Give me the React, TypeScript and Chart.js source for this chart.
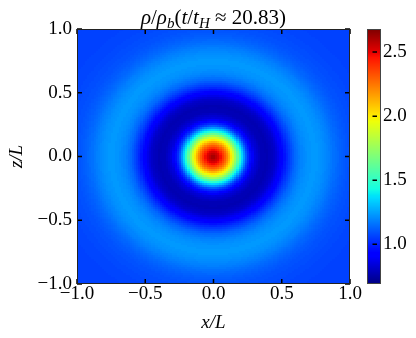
import React, { useEffect, useRef } from "react";
import { Chart, registerables } from "chart.js";

Chart.register(...registerables);

// ---- data ----
const profileRadius = [0, 0.05, 0.1, 0.15, 0.2, 0.25, 0.3, 0.35, 0.4, 0.45, 0.5, 0.55, 0.6, 0.65, 0.7, 0.75, 0.8, 0.85, 0.9, 0.95, 1.0, 1.1, 1.2, 1.3, 1.45];
const profileDensity = [2.64, 2.5, 2.24, 1.9, 1.45, 1.06, 0.86, 0.79, 0.78, 0.82, 0.92, 1.04, 1.14, 1.2, 1.23, 1.24, 1.22, 1.19, 1.15, 1.12, 1.1, 1.08, 1.07, 1.07, 1.07];
const axisTicks = [-1, -0.5, 0, 0.5, 1];
const colorbarTicks = [1.0, 1.5, 2.0, 2.5];
const colorMin = 0.69;
const colorMax = 2.68;
const gridSize = 128;
const xLabel = "x/L";
const yLabel = "z/L";
const titleSegments = [
  { text: "\u03c1", italic: true, sub: false },
  { text: "/", italic: false, sub: false },
  { text: "\u03c1", italic: true, sub: false },
  { text: "b", italic: true, sub: true },
  { text: "(", italic: false, sub: false },
  { text: "t", italic: true, sub: false },
  { text: "/", italic: false, sub: false },
  { text: "t", italic: true, sub: false },
  { text: "H", italic: true, sub: true },
  { text: " \u2248 20.83)", italic: false, sub: false },
];

const FAMILY = "'Liberation Serif', 'DejaVu Serif', serif";
const FONT_SIZE = 19;

// ---- helpers ----
const jetR = [[0, 0], [0.35, 0], [0.66, 1], [0.89, 1], [1, 0.5]];
const jetG = [[0, 0], [0.125, 0], [0.375, 1], [0.64, 1], [0.91, 0], [1, 0]];
const jetB = [[0, 0.5], [0.11, 1], [0.34, 1], [0.65, 0], [1, 0]];

function seg(pts: number[][], t: number) {
  for (let i = 1; i < pts.length; i++) {
    if (t <= pts[i][0]) {
      const [x0, y0] = pts[i - 1];
      const [x1, y1] = pts[i];
      return y0 + ((y1 - y0) * (t - x0)) / (x1 - x0);
    }
  }
  return pts[pts.length - 1][1];
}

function jet(v: number) {
  let t = (v - colorMin) / (colorMax - colorMin);
  t = Math.max(0, Math.min(1, t));
  t = Math.min(255, Math.floor(t * 256)) / 255;
  const r = Math.round(seg(jetR, t) * 255);
  const g = Math.round(seg(jetG, t) * 255);
  const b = Math.round(seg(jetB, t) * 255);
  return `rgb(${r},${g},${b})`;
}

function profileAt(r: number) {
  for (let i = 1; i < profileRadius.length; i++) {
    if (r <= profileRadius[i]) {
      const r0 = profileRadius[i - 1];
      const r1 = profileRadius[i];
      const f = (r - r0) / (r1 - r0);
      return profileDensity[i - 1] + f * (profileDensity[i] - profileDensity[i - 1]);
    }
  }
  return profileDensity[profileDensity.length - 1];
}

const cellHalf = 1 / gridSize;
const cells: { x: number; y: number; v: number }[] = [];
for (let j = 0; j < gridSize; j++) {
  for (let i = 0; i < gridSize; i++) {
    const x = -1 + (i + 0.5) * (2 / gridSize);
    const y = -1 + (j + 0.5) * (2 / gridSize);
    cells.push({ x, y, v: profileAt(Math.hypot(x, y)) });
  }
}

const fmt = (v: number) => (v < 0 ? "\u2212" : "") + Math.abs(v).toFixed(1);

const heatmapPlugin = {
  id: "heatmap",
  beforeDatasetsDraw(chart: any) {
    const { ctx, chartArea, scales } = chart;
    const xs = scales.x;
    const ys = scales.y;
    ctx.save();
    ctx.beginPath();
    ctx.rect(chartArea.left, chartArea.top, chartArea.right - chartArea.left, chartArea.bottom - chartArea.top);
    ctx.clip();
    const data = chart.data.datasets[0].data as any[];
    for (const c of data) {
      const l = Math.floor(xs.getPixelForValue(c.x - cellHalf));
      const r = Math.ceil(xs.getPixelForValue(c.x + cellHalf));
      const t = Math.floor(ys.getPixelForValue(c.y + cellHalf));
      const b = Math.ceil(ys.getPixelForValue(c.y - cellHalf));
      ctx.fillStyle = jet(c.v);
      ctx.fillRect(l, t, r - l, b - t);
    }
    ctx.restore();
  },
};

const framePlugin = {
  id: "frame",
  afterDatasetsDraw(chart: any) {
    const { ctx, chartArea, scales } = chart;
    const { left, right, top, bottom } = chartArea;
    ctx.save();
    ctx.strokeStyle = "#000";
    ctx.lineWidth = 1.5;
    const len = 5;
    ctx.beginPath();
    for (const v of axisTicks) {
      const px = scales.x.getPixelForValue(v);
      ctx.moveTo(px, bottom);
      ctx.lineTo(px, bottom - len);
      ctx.moveTo(px, top);
      ctx.lineTo(px, top + len);
      const py = scales.y.getPixelForValue(v);
      ctx.moveTo(left, py);
      ctx.lineTo(left + len, py);
      ctx.moveTo(right, py);
      ctx.lineTo(right - len, py);
    }
    ctx.stroke();
    ctx.lineWidth = 1;
    ctx.strokeStyle = "#222";
    ctx.strokeRect(left + 0.5, top + 0.5, right - left - 1, bottom - top - 1);
    ctx.restore();
  },
};

const titlePlugin = {
  id: "mathTitle",
  afterDraw(chart: any) {
    const { ctx, chartArea } = chart;
    const big = 21;
    const small = 15;
    ctx.save();
    ctx.fillStyle = "#000";
    ctx.textBaseline = "alphabetic";
    const fontOf = (s: any) => `${s.italic ? "italic " : ""}${s.sub ? small : big}px ${FAMILY}`;
    let total = 0;
    for (const s of titleSegments) {
      ctx.font = fontOf(s);
      total += ctx.measureText(s.text).width;
    }
    let x = (chartArea.left + chartArea.right) / 2 - total / 2;
    const baseY = 24;
    for (const s of titleSegments) {
      ctx.font = fontOf(s);
      ctx.fillText(s.text, x, s.sub ? baseY + 4 : baseY);
      x += ctx.measureText(s.text).width;
    }
    ctx.restore();
  },
};

const colorbarPlugin = {
  id: "colorbar",
  beforeDatasetsDraw(chart: any) {
    const { ctx, chartArea, scales } = chart;
    const ys = scales.y;
    const { left, right, top, bottom } = chartArea;
    ctx.save();
    const levels = chart.data.datasets[0].data as any[];
    for (let i = 0; i < levels.length - 1; i++) {
      const y0 = ys.getPixelForValue(levels[i].y);
      const y1 = ys.getPixelForValue(levels[i + 1].y);
      ctx.fillStyle = jet((levels[i].y + levels[i + 1].y) / 2);
      ctx.fillRect(left, Math.floor(y1), right - left, Math.ceil(y0) - Math.floor(y1));
    }
    ctx.strokeStyle = "#000";
    ctx.lineWidth = 1.5;
    ctx.beginPath();
    for (const v of colorbarTicks) {
      const py = ys.getPixelForValue(v);
      ctx.moveTo(left + 5.5, py);
      ctx.lineTo(left + 10, py);
    }
    ctx.stroke();
    ctx.lineWidth = 1;
    ctx.strokeStyle = "#444";
    ctx.strokeRect(left + 0.5, top + 0.5, right - left - 1, bottom - top - 1);
    ctx.restore();
  },
};

const colorbarLevels: { x: number; y: number }[] = [];
for (let i = 0; i <= 256; i++) {
  colorbarLevels.push({ x: 0.5, y: colorMin + ((colorMax - colorMin) * i) / 256 });
}

const tickFont = { family: FAMILY, size: FONT_SIZE, lineHeight: 1.0 };
const titleFont = { family: FAMILY, size: FONT_SIZE, style: "italic" as const, lineHeight: 1.2 };

export default function App() {
  const mainRef = useRef<HTMLCanvasElement>(null);
  const cbRef = useRef<HTMLCanvasElement>(null);

  useEffect(() => {
    const main = new Chart(mainRef.current as HTMLCanvasElement, {
      type: "scatter",
      data: { datasets: [{ data: cells as any, pointRadius: 0, pointHoverRadius: 0 }] },
      options: {
        animation: false,
        responsive: false,
        events: [],
        layout: { padding: { top: 29, right: 66, left: 0, bottom: 0 } },
        plugins: { legend: { display: false }, tooltip: { enabled: false }, title: { display: false } },
        scales: {
          x: {
            type: "linear",
            min: -1,
            max: 1,
            afterBuildTicks: (s: any) => {
              s.ticks = axisTicks.map((v) => ({ value: v }));
            },
            afterFit: (s: any) => {
              s.height = 54;
            },
            grid: { display: false, drawTicks: false },
            border: { display: false },
            ticks: { font: tickFont, color: "#000", padding: 1, maxRotation: 0, autoSkip: false, callback: (v: any) => fmt(Number(v)) },
            title: { display: true, text: xLabel, font: titleFont, color: "#000", padding: { top: 0, bottom: 4 } },
          },
          y: {
            type: "linear",
            min: -1,
            max: 1,
            afterBuildTicks: (s: any) => {
              s.ticks = axisTicks.map((v) => ({ value: v }));
            },
            afterFit: (s: any) => {
              s.width = 77;
            },
            grid: { display: false, drawTicks: false },
            border: { display: false },
            ticks: { font: tickFont, color: "#000", padding: 5, autoSkip: false, callback: (v: any) => fmt(Number(v)) },
            title: { display: true, text: yLabel, font: titleFont, color: "#000", padding: { top: 5.5, bottom: 0 } },
          },
        },
      },
      plugins: [heatmapPlugin, framePlugin, titlePlugin],
    });

    const cb = new Chart(cbRef.current as HTMLCanvasElement, {
      type: "scatter",
      data: { datasets: [{ data: colorbarLevels as any, pointRadius: 0, pointHoverRadius: 0 }] },
      options: {
        animation: false,
        responsive: false,
        events: [],
        layout: { padding: { top: 29, bottom: 54, left: 367, right: 0 } },
        plugins: { legend: { display: false }, tooltip: { enabled: false }, title: { display: false } },
        scales: {
          x: { type: "linear", display: false, min: 0, max: 1 },
          y: {
            type: "linear",
            position: "right",
            min: colorMin,
            max: colorMax,
            afterBuildTicks: (s: any) => {
              s.ticks = colorbarTicks.map((v) => ({ value: v }));
            },
            afterFit: (s: any) => {
              s.width = 35;
            },
            grid: { display: false, drawTicks: false },
            border: { display: false },
            ticks: { font: tickFont, color: "#000", padding: 2, autoSkip: false, callback: (v: any) => Number(v).toFixed(1) },
          },
        },
      },
      plugins: [colorbarPlugin],
    });

    return () => {
      main.destroy();
      cb.destroy();
    };
  }, []);

  return (
    <div style={{ position: "absolute", left: 0, top: 0, width: 416, height: 338, background: "#fff" }}>
      <canvas ref={mainRef} width={416} height={338} style={{ position: "absolute", left: 0, top: 0, width: 416, height: 338 }} />
      <canvas ref={cbRef} width={416} height={338} style={{ position: "absolute", left: 0, top: 0, width: 416, height: 338 }} />
    </div>
  );
}
